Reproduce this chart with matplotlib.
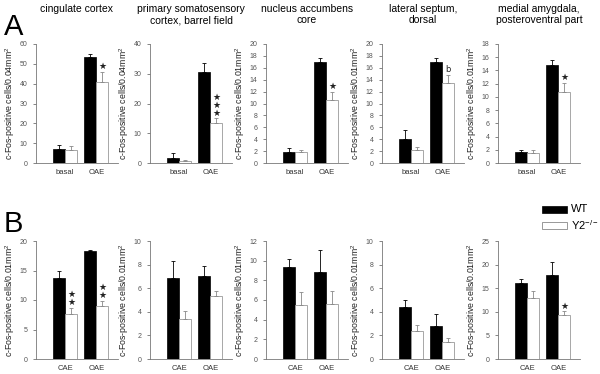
import numpy as np
import matplotlib
matplotlib.use('Agg')
import matplotlib.pyplot as plt

plt.rcParams['font.family'] = ['Liberation Sans', 'DejaVu Sans']

# Region titles (top row)
titles = ['cingulate cortex',
          'primary somatosensory\ncortex, barrel field',
          'nucleus accumbens\ncore',
          'lateral septum,\ndorsal',
          'medial amygdala,\nposteroventral part']

# Row A: basal / OAE
groups_a = ['basal', 'OAE']
wt_a = [[7.0, 53.5], [1.8, 30.5], [1.9, 16.9], [4.1, 16.9], [1.7, 14.8]]
wt_a_err = [[2.0, 1.5], [1.5, 3.0], [0.6, 0.7], [1.4, 0.7], [0.3, 0.8]]
ko_a = [[6.5, 41.0], [0.8, 13.3], [1.9, 10.6], [2.2, 13.5], [1.5, 10.8]]
ko_a_err = [[2.0, 5.0], [0.3, 1.7], [0.3, 1.4], [0.5, 1.3], [0.4, 1.3]]
ymax_a = [60, 40, 20, 20, 18]
ystep_a = [10, 10, 2, 2, 2]
unit_a = ['0.04', '0.04', '0.01', '0.01', '0.01']
marks_a = [['', '★'], ['', '★\n★\n★'], ['', '★'], ['', 'b'], ['', '★']]

# Row B: CAE / OAE
groups_b = ['CAE', 'OAE']
wt_b = [[13.8, 18.3], [6.9, 7.0], [9.4, 8.8], [4.4, 2.8], [16.0, 17.9]]
wt_b_err = [[1.2, 0.2], [1.4, 0.9], [0.8, 2.3], [0.6, 1.0], [1.0, 2.6]]
ko_b = [[7.7, 9.0], [3.4, 5.3], [5.5, 5.6], [2.4, 1.4], [13.0, 9.3]]
ko_b_err = [[1.0, 0.9], [0.7, 0.5], [1.3, 1.3], [0.5, 0.4], [1.5, 0.8]]
ymax_b = [20, 10, 12, 10, 25]
ystep_b = [5, 2, 2, 2, 5]
unit_b = ['0.01'] * 5
marks_b = [['★\n★', '★\n★'], ['', ''], ['', ''], ['', ''], ['', '★']]

W, H = 600, 374
fig = plt.figure(figsize=(6, 3.74), dpi=100)

lefts = [36, 150, 266, 382, 498]
ax_w = 82
grey = '#777777'


def draw_panel(ax, groups, wt, wt_err, ko, ko_err, ymax, ystep, unit, marks):
    x = np.arange(len(groups)) + 1.0
    bw = 0.38
    ax.bar(x - bw / 2, wt, bw, color='black', edgecolor='black', linewidth=0.5)
    ax.bar(x + bw / 2, ko, bw, color='white', edgecolor='#999999', linewidth=0.6)
    ax.errorbar(x - bw / 2, wt, yerr=[np.zeros(len(wt)), wt_err], fmt='none',
                ecolor='black', elinewidth=0.6, capsize=1.6, capthick=0.6)
    ax.errorbar(x + bw / 2, ko, yerr=[np.zeros(len(ko)), ko_err], fmt='none',
                ecolor='#888888', elinewidth=0.6, capsize=1.6, capthick=0.6)
    for i, m in enumerate(marks):
        if m:
            fs = 6 if m == 'b' else 6.5
            ax.annotate(m, (x[i] + bw / 2, ko[i] + ko_err[i]), xytext=(0, 0.5),
                        textcoords='offset points', ha='center', va='bottom',
                        fontsize=fs, linespacing=0.85, color='#222222',
                        family=['DejaVu Sans'])
    ax.set_xlim(0.06, 2.7)
    ax.set_ylim(0, ymax)
    ax.set_yticks(np.arange(0, ymax + 0.01, ystep))
    ax.set_xticks(x)
    ax.set_xticklabels(groups, fontsize=5.5, color='#333333')
    ax.tick_params(axis='x', length=0, pad=4)
    ax.tick_params(axis='y', labelsize=5, colors='#555555', length=2, width=0.5,
                   direction='out', pad=4)
    ax.set_ylabel('c-Fos-positive cells/' + unit + 'mm$^{\\mathregular{2}}$',
                  fontsize=6.3, color='#222222', labelpad=2)
    for s in ['top', 'right']:
        ax.spines[s].set_visible(False)
    for s in ['left', 'bottom']:
        ax.spines[s].set_color(grey)
        ax.spines[s].set_linewidth(0.6)


# Row A axes: y from 44 to 163 px; Row B: 241 to 359 px
for i in range(5):
    ax = fig.add_axes([lefts[i] / W, (H - 163) / H, ax_w / W, (163 - 44) / H])
    draw_panel(ax, groups_a, wt_a[i], wt_a_err[i], ko_a[i], ko_a_err[i],
               ymax_a[i], ystep_a[i], unit_a[i], marks_a[i])
    fig.text((lefts[i] + ax_w / 2) / W, 1 - 4 / H, titles[i], ha='center',
             va='top', fontsize=7.5, linespacing=1.15)

for i in range(5):
    ax = fig.add_axes([lefts[i] / W, (H - 359) / H, ax_w / W, (359 - 241) / H])
    draw_panel(ax, groups_b, wt_b[i], wt_b_err[i], ko_b[i], ko_b_err[i],
               ymax_b[i], ystep_b[i], unit_b[i], marks_b[i])

# Panel letters
fig.text(4 / W, 1 - 27 / H, 'A', fontsize=21, va='center', ha='left')
fig.text(4 / W, 1 - 224 / H, 'B', fontsize=21, va='center', ha='left')

# Legend
lax = fig.add_axes([540 / W, (H - 235) / H, 60 / W, 35 / H])
lax.axis('off')
lax.set_xlim(0, 60)
lax.set_ylim(35, 0)
lax.add_patch(plt.Rectangle((2, 6), 25, 7, facecolor='black', edgecolor='black', lw=0.5))
lax.add_patch(plt.Rectangle((2, 22), 25, 7, facecolor='white', edgecolor='#888888', lw=0.6))
lax.text(31, 9.5, 'WT', fontsize=8, va='center', ha='left')
lax.text(31, 25.5, 'Y2$^{\\mathregular{-/-}}$', fontsize=8, va='center', ha='left')

fig.savefig('out.png', dpi=100)
